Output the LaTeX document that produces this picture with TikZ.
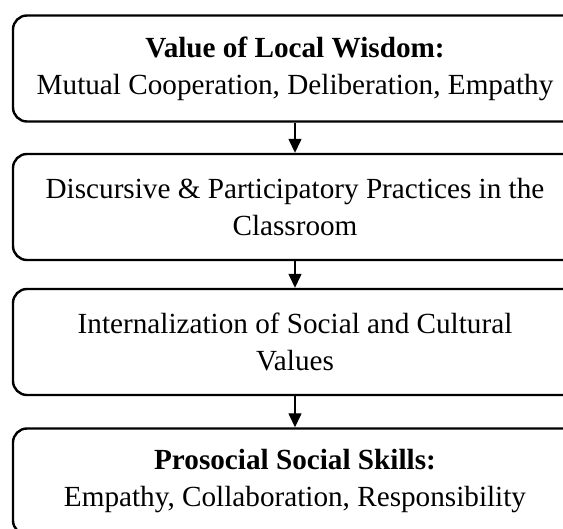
\documentclass[tikz,border=0pt]{standalone}
\usepackage{fontspec}
\setmainfont{Liberation Serif}
\usetikzlibrary{arrows.meta}

\begin{document}
\begin{tikzpicture}[x=1pt, y=-1pt,
        stage/.style={draw, line width=2.4pt, rounded corners=14pt, minimum width=564pt,
            minimum height=106pt, inner sep=0pt, align=center,
            font=\fontsize{29.2}{37}\selectfont},
        flow/.style={line width=1.4pt, -{Triangle[width=13pt,length=14pt]}}]
        \useasboundingbox (0,0) rectangle (563,529);
        \node [stage] (wisdom) at (295, 68.5) {\textbf{Value of Local Wisdom:}\\Mutual Cooperation, Deliberation, Empathy};
        \node [stage] (practice) at (295, 207) {Discursive \& Participatory Practices in the\\Classroom};
        \node [stage] (values) at (295, 342) {Internalization of Social and Cultural\\Values};
        \node [stage] (skills) at (295, 481.5) {\textbf{Prosocial Social Skills:}\\Empathy, Collaboration, Responsibility};
        \draw [flow] (wisdom) -- (practice);
        \draw [flow] (practice) -- (values);
        \draw [flow] (values) -- (skills);
    \end{tikzpicture}
\end{document}
